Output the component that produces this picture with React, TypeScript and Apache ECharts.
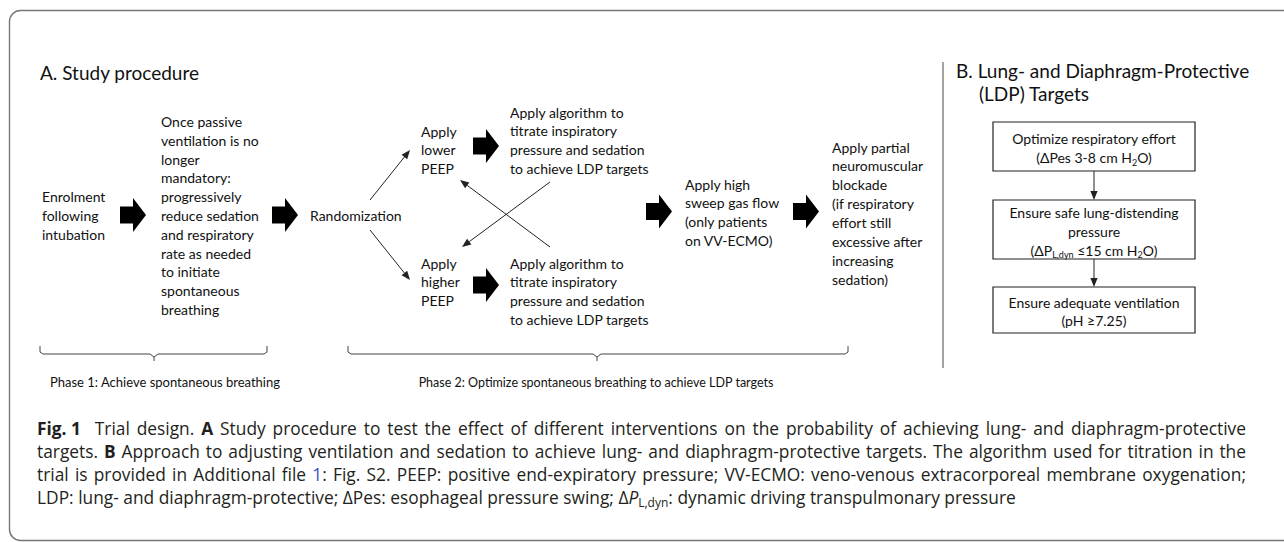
import React, { useEffect, useRef } from "react";
import * as echarts from "echarts";

// ---- text content ----
const titleA = "A. Study procedure";
const enrolLines = ["Enrolment", "following", "intubation"];
const passiveLines = [
  "Once passive",
  "ventilation is no",
  "longer",
  "mandatory:",
  "progressively",
  "reduce sedation",
  "and respiratory",
  "rate as needed",
  "to initiate",
  "spontaneous",
  "breathing",
];
const randomLabel = "Randomization";
const lowerPeepLines = ["Apply", "lower", "PEEP"];
const higherPeepLines = ["Apply", "higher", "PEEP"];
const algorithmLines = [
  "Apply algorithm to",
  "titrate inspiratory",
  "pressure and sedation",
  "to achieve LDP targets",
];
const sweepLines = ["Apply high", "sweep gas flow", "(only patients", "on VV-ECMO)"];
const blockadeLines = [
  "Apply partial",
  "neuromuscular",
  "blockade",
  "(if respiratory",
  "effort still",
  "excessive after",
  "increasing",
  "sedation)",
];
const phaseLabels = [
  "Phase 1: Achieve spontaneous breathing",
  "Phase 2: Optimize spontaneous breathing to achieve LDP targets",
];
const titleBLines = ["B. Lung- and Diaphragm-Protective", "(LDP) Targets"];
const box1Lines = ["Optimize respiratory effort", "(ΔPes 3-8 cm H{sub|2}O)"];
const box2Lines = [
  "Ensure safe lung-distending",
  "pressure",
  "(ΔP{sub|L,dyn} ≤15 cm H{sub|2}O)",
];
const box3Lines = ["Ensure adequate ventilation", "(pH ≥7.25)"];
const captionLines = [
  "{b|Fig. 1}  Trial design. {b|A} Study procedure to test the effect of different interventions on the probability of achieving lung- and diaphragm-protective",
  "targets. {b|B} Approach to adjusting ventilation and sedation to achieve lung- and diaphragm-protective targets. The algorithm used for titration in the",
  "trial is provided in Additional file {link|1}: Fig. S2. PEEP: positive end-expiratory pressure; VV-ECMO: veno-venous extracorporeal membrane oxygenation;",
  "LDP: lung- and diaphragm-protective; ΔPes: esophageal pressure swing; Δ{i|P}{sub|L,dyn}: dynamic driving transpulmonary pressure",
];

// ---- styling ----
const FF = "Lato, 'Open Sans', sans-serif";
const CAP_FF = "'Open Sans', Lato, sans-serif";
const DIAG_FONT = `14px ${FF}`;
const INK = "#111";

function txt(text: string, x: number, y: number, opts: any = {}) {
  const align = opts.align || "left";
  const style: any = {
    text,
    fill: opts.fill || INK,
    font: opts.font || DIAG_FONT,
    textAlign: align,
    align,
    textVerticalAlign: "middle",
    verticalAlign: "middle",
  };
  if (opts.rich) style.rich = opts.rich;
  if (opts.lineHeight) style.lineHeight = opts.lineHeight;
  return { type: "text", x, y, silent: true, style };
}

function block(lines: string[], x: number, y0: number, dy: number, opts: any = {}) {
  return lines.map((l, i) => txt(l, x, y0 + i * dy, opts));
}

function bigArrow(x: number, yc: number) {
  return {
    type: "polygon",
    silent: true,
    shape: {
      points: [
        [x, yc - 8.5],
        [x + 13, yc - 8.5],
        [x + 13, yc - 17],
        [x + 26, yc],
        [x + 13, yc + 17],
        [x + 13, yc + 8.5],
        [x, yc + 8.5],
      ],
    },
    style: { fill: "#000" },
  };
}

function thinArrow(x1: number, y1: number, x2: number, y2: number, color = "#222") {
  const dx = x2 - x1;
  const dy = y2 - y1;
  const len = Math.sqrt(dx * dx + dy * dy);
  const ux = dx / len;
  const uy = dy / len;
  const hl = 9;
  const hw = 3.6;
  const bx = x2 - ux * hl;
  const by = y2 - uy * hl;
  return [
    {
      type: "line",
      silent: true,
      shape: { x1, y1, x2: bx, y2: by },
      style: { stroke: color, lineWidth: 1 },
    },
    {
      type: "polygon",
      silent: true,
      shape: {
        points: [
          [x2, y2],
          [bx - uy * hw, by + ux * hw],
          [bx + uy * hw, by - ux * hw],
        ],
      },
      style: { fill: color },
    },
  ];
}

function bracket(x0: number, x1: number, tip: number, top: number, base: number, tail: number) {
  const st = { stroke: "#444", lineWidth: 1, fill: "none" };
  return [
    {
      type: "polyline",
      silent: true,
      shape: {
        points: [
          [x0, top],
          [x0, base - 2],
          [x0 + 3, base],
          [tip - 4, base],
          [tip, base + 3],
          [tip, tail],
        ],
      },
      style: st,
    },
    {
      type: "polyline",
      silent: true,
      shape: {
        points: [
          [x1, top],
          [x1, base - 2],
          [x1 - 3, base],
          [tip + 4, base],
          [tip, base + 3],
        ],
      },
      style: st,
    },
  ];
}

function box(x: number, y: number, w: number, h: number) {
  return {
    type: "rect",
    silent: true,
    shape: { x, y, width: w, height: h },
    style: { fill: "#fff", stroke: "#222", lineWidth: 1.2 },
  };
}

const subRich = {
  sub: { font: `9px ${FF}`, lineHeight: 9, verticalAlign: "bottom", fill: INK },
};

let measureCtx: CanvasRenderingContext2D | null = null;
function getCtx() {
  if (!measureCtx) {
    const c = document.createElement("canvas");
    measureCtx = c.getContext("2d");
  }
  return measureCtx;
}

function measureRich(s: string, fonts: Record<string, string>): number {
  const ctx = getCtx();
  if (!ctx) return s.length * 8;
  const re = /\{(\w+)\|([^}]*)\}|([^{]+)/g;
  let m: RegExpExecArray | null;
  let w = 0;
  while ((m = re.exec(s))) {
    if (m[1]) {
      ctx.font = fonts[m[1]] || fonts.base;
      w += ctx.measureText(m[2]).width;
    } else {
      ctx.font = fonts.base;
      w += ctx.measureText(m[3]).width;
    }
  }
  return w;
}

function capFonts(size: number) {
  const s = size.toFixed(2);
  const sub = Math.round(size * 0.68);
  return {
    base: `${s}px ${CAP_FF}`,
    b: `bold ${s}px ${CAP_FF}`,
    i: `italic ${s}px ${CAP_FF}`,
    link: `${s}px ${CAP_FF}`,
    sub: `${sub}px ${CAP_FF}`,
    subSize: sub,
  } as any;
}

// split a rich line into words, keeping {style|...} markup intact
function splitWords(line: string) {
  const guarded = line.replace(/\{[^}]*\}/g, (m) => m.replace(/ /g, "\u0001"));
  const parts = guarded.split(/( +)/);
  const words: string[] = [];
  const gaps: number[] = [];
  parts.forEach((p, i) => {
    if (i % 2 === 0) words.push(p.replace(/\u0001/g, " "));
    else gaps.push(p.length);
  });
  return { words, gaps };
}

export default function App() {
  const ref = useRef<HTMLDivElement>(null);

  useEffect(() => {
    if (!ref.current) return;
    const chart = echarts.init(ref.current, undefined, { renderer: "svg" });

    const elements: any[] = [];

    // outer rounded frame
    elements.push({
      type: "rect",
      silent: true,
      shape: { x: 9.5, y: 10.5, width: 1300, height: 530, r: 11 },
      style: { fill: "none", stroke: "#777", lineWidth: 1.4 },
    });

    // Panel A
    elements.push(txt(titleA, 40, 72, { font: `19px ${FF}` }));
    elements.push(...block(enrolLines, 42, 196.5, 19));
    elements.push(bigArrow(120, 215));
    elements.push(...block(passiveLines, 161, 121.5, 18.8));
    elements.push(bigArrow(272, 215));
    elements.push(txt(randomLabel, 310, 215));
    elements.push(...thinArrow(370, 200, 410, 150));
    elements.push(...thinArrow(370, 230, 410, 280));
    elements.push(...block(lowerPeepLines, 421, 131, 18.6));
    elements.push(...block(higherPeepLines, 421, 263, 18.8));
    elements.push(bigArrow(473, 146));
    elements.push(bigArrow(473, 285));
    elements.push(...block(algorithmLines, 510, 112, 18.7));
    elements.push(...block(algorithmLines, 510, 263, 18.8));
    elements.push(...thinArrow(550, 182, 462, 247));
    elements.push(...thinArrow(550, 247, 460, 180));
    elements.push(bigArrow(646, 211.5));
    elements.push(...block(sweepLines, 685, 184, 18.8));
    elements.push(bigArrow(793, 211.5));
    elements.push(...block(blockadeLines, 832, 147, 18.9));

    // brackets and phase labels
    elements.push(...bracket(40, 267, 154, 346, 354, 361));
    elements.push(...bracket(348, 848, 597, 346, 354, 361));
    elements.push(txt(phaseLabels[0], 50, 382, { font: `13px ${FF}` }));
    elements.push(txt(phaseLabels[1], 596, 382, { font: `12.5px ${FF}`, align: "center" }));

    // separator
    elements.push({
      type: "line",
      silent: true,
      shape: { x1: 943, y1: 62, x2: 943, y2: 368 },
      style: { stroke: "#666", lineWidth: 1.2 },
    });

    // Panel B
    elements.push(txt(titleBLines[0], 956, 70, { font: `19px ${FF}` }));
    elements.push(txt(titleBLines[1], 979, 93, { font: `19px ${FF}` }));
    const bx = 993;
    const bw = 202;
    const cx = bx + bw / 2;
    elements.push(box(bx, 122, bw, 49));
    elements.push(box(bx, 200, bw, 59));
    elements.push(box(bx, 287, bw, 46));
    elements.push(...thinArrow(cx, 171, cx, 200));
    elements.push(...thinArrow(cx, 259, cx, 287));
    elements.push(...block(box1Lines, cx, 138, 19.5, { align: "center", rich: subRich, lineHeight: 18 }));
    elements.push(...block(box2Lines, cx, 212, 19, { align: "center", rich: subRich, lineHeight: 18 }));
    elements.push(...block(box3Lines, cx, 302, 18.5, { align: "center", rich: subRich, lineHeight: 18 }));

    // Caption (justified lines 1-3, natural last line)
    const capLeft = 37;
    const capRight = 1246;
    const f16 = capFonts(16);
    const w1 = measureRich(captionLines[0], f16);
    const w4 = measureRich(captionLines[3], f16);
    let cs = 17;
    if (w1 > 0 && w4 > 0) {
      const s1 = (16 * (capRight - capLeft - 12)) / w1;
      const s4 = (16 * 931) / w4;
      cs = Math.max(12, Math.min(22, 0.6 * s1 + 0.4 * s4));
    }
    const f = capFonts(cs);
    const capInk = "#231f20";
    const capRich = {
      b: { font: f.b, fill: capInk },
      i: { font: f.i, fill: capInk },
      link: { font: f.link, fill: "#3a4fc4" },
      sub: { font: f.sub, lineHeight: f.subSize, verticalAlign: "bottom", fill: capInk },
    };
    const capOpts = { font: f.base, fill: capInk, rich: capRich, lineHeight: 22 };
    captionLines.forEach((line, li) => {
      const y = 428 + li * 23;
      if (li === captionLines.length - 1) {
        elements.push(txt(line, capLeft, y, capOpts));
        return;
      }
      const { words, gaps } = splitWords(line);
      const widths = words.map((w) => measureRich(w, f));
      const sumW = widths.reduce((a, b) => a + b, 0);
      const units = gaps.reduce((a, b) => a + b, 0);
      const unit = units > 0 ? (capRight - capLeft - sumW) / units : 4;
      let x = capLeft;
      words.forEach((w, i) => {
        elements.push(txt(w, x, y, capOpts));
        x += widths[i] + (i < gaps.length ? gaps[i] * unit : 0);
      });
    });

    chart.setOption({
      animation: false,
      backgroundColor: "#fff",
      graphic: { elements },
    });

    return () => chart.dispose();
  }, []);

  return (
    <div
      ref={ref}
      style={{ position: "fixed", left: 0, top: 0, width: 1284, height: 542, background: "#fff" }}
    />
  );
}
